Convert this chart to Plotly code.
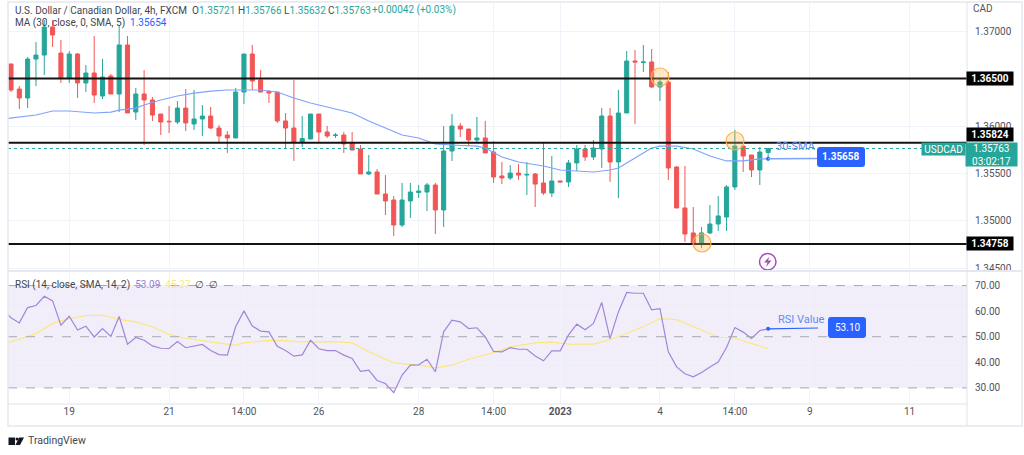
import pandas as pd
import plotly.graph_objects as go
from plotly.subplots import make_subplots

# USDCAD 4h candles: open, high, low, close
candles = [
    (1.36653, 1.36653, 1.36358, 1.36379), (1.36389, 1.36421, 1.36179, 1.36295),
    (1.36295, 1.36726, 1.36189, 1.36705), (1.36705, 1.36884, 1.36421, 1.36747),
    (1.36747, 1.37116, 1.36537, 1.37042), (1.37042, 1.37116, 1.36832, 1.36958),
    (1.36768, 1.36905, 1.36453, 1.36505), (1.36505, 1.36789, 1.36453, 1.36758),
    (1.36758, 1.36768, 1.36295, 1.36453), (1.36453, 1.36642, 1.36358, 1.36558),
    (1.36558, 1.36947, 1.36242, 1.36326), (1.36316, 1.36705, 1.36284, 1.36516),
    (1.36526, 1.36547, 1.36337, 1.36337), (1.36337, 1.37063, 1.36147, 1.36853),
    (1.36853, 1.36947, 1.36137, 1.36137), (1.36147, 1.36400, 1.36063, 1.36337),
    (1.36337, 1.36589, 1.35800, 1.36274), (1.36274, 1.36305, 1.36053, 1.36116),
    (1.36126, 1.36126, 1.35905, 1.36042), (1.36050, 1.36211, 1.35926, 1.36045),
    (1.36042, 1.36263, 1.36021, 1.36189), (1.36189, 1.36389, 1.35947, 1.36032),
    (1.36021, 1.36379, 1.35958, 1.36074), (1.36074, 1.36221, 1.35895, 1.36105),
    (1.36105, 1.36200, 1.35968, 1.35979), (1.35979, 1.36011, 1.35821, 1.35895),
    (1.35905, 1.35947, 1.35716, 1.35874), (1.35874, 1.36400, 1.35874, 1.36358),
    (1.36358, 1.36758, 1.36232, 1.36758), (1.36758, 1.36853, 1.36379, 1.36474),
    (1.36484, 1.36589, 1.36358, 1.36358), (1.36363, 1.36379, 1.36242, 1.36347),
    (1.36358, 1.36358, 1.36032, 1.36053), (1.36053, 1.36137, 1.35758, 1.35979),
    (1.35979, 1.36484, 1.35632, 1.35832), (1.35832, 1.36105, 1.35779, 1.35868),
    (1.35863, 1.36126, 1.35863, 1.36126), (1.36126, 1.36126, 1.35832, 1.35937),
    (1.35937, 1.36000, 1.35874, 1.35895), (1.35900, 1.35926, 1.35874, 1.35905),
    (1.35905, 1.35937, 1.35716, 1.35811), (1.35821, 1.35937, 1.35747, 1.35747),
    (1.35758, 1.35800, 1.35495, 1.35495), (1.35495, 1.35695, 1.35484, 1.35516),
    (1.35516, 1.35547, 1.35284, 1.35284), (1.35284, 1.35484, 1.35063, 1.35211),
    (1.35221, 1.35263, 1.34842, 1.34958), (1.34958, 1.35400, 1.34937, 1.35221),
    (1.35211, 1.35400, 1.35032, 1.35305), (1.35300, 1.35379, 1.35242, 1.35316),
    (1.35305, 1.35400, 1.35105, 1.35379), (1.35379, 1.35400, 1.34863, 1.35116),
    (1.35116, 1.36000, 1.34937, 1.35737), (1.35737, 1.36126, 1.35632, 1.36000),
    (1.36000, 1.36032, 1.35884, 1.35968), (1.35968, 1.35968, 1.35789, 1.35853),
    (1.35853, 1.36095, 1.35821, 1.35874), (1.35874, 1.36053, 1.35716, 1.35716),
    (1.35726, 1.35842, 1.35400, 1.35463), (1.35474, 1.35621, 1.35389, 1.35453),
    (1.35453, 1.35589, 1.35432, 1.35505), (1.35505, 1.35600, 1.35432, 1.35484),
    (1.35484, 1.35621, 1.35274, 1.35490), (1.35495, 1.35505, 1.35147, 1.35389),
    (1.35400, 1.35821, 1.35274, 1.35295), (1.35295, 1.35684, 1.35253, 1.35421),
    (1.35421, 1.35421, 1.35411, 1.35411), (1.35411, 1.35642, 1.35358, 1.35611),
    (1.35611, 1.35800, 1.35526, 1.35758), (1.35758, 1.35800, 1.35632, 1.35674),
    (1.35674, 1.35853, 1.35642, 1.35768), (1.35758, 1.36189, 1.35558, 1.36105),
    (1.36105, 1.36189, 1.35411, 1.35621), (1.35621, 1.36379, 1.35242, 1.36137),
    (1.36137, 1.36789, 1.36137, 1.36684), (1.36684, 1.36800, 1.36021, 1.36674),
    (1.36668, 1.36853, 1.36568, 1.36674), (1.36674, 1.36811, 1.36400, 1.36411),
    (1.36411, 1.36505, 1.36263, 1.36463), (1.36463, 1.36568, 1.35432, 1.35558),
    (1.35568, 1.35579, 1.35137, 1.35137), (1.35137, 1.35579, 1.34779, 1.34863),
    (1.34874, 1.35147, 1.34768, 1.34768), (1.34768, 1.34937, 1.34716, 1.34874),
    (1.34874, 1.35168, 1.34863, 1.34968), (1.34968, 1.35263, 1.34895, 1.35053),
    (1.35042, 1.35379, 1.34895, 1.35358), (1.35358, 1.35958, 1.35326, 1.35789),
    (1.35789, 1.35789, 1.35516, 1.35684), (1.35695, 1.35695, 1.35463, 1.35537),
    (1.35537, 1.35779, 1.35379, 1.35726), (1.35721, 1.35766, 1.35632, 1.35763),
]
df = pd.DataFrame(candles, columns=['open', 'high', 'low', 'close'])

# 30 period SMA, read at the bars where it bends (starts left of the visible range)
sma = [
    (-1, 1.36074), (0, 1.36084), (3, 1.36116), (5, 1.36158), (7, 1.36158), (10, 1.36137), (12, 1.36147),
    (13, 1.36168), (15, 1.36189), (16, 1.36221), (18, 1.36274), (20, 1.36316), (22, 1.36347),
    (24, 1.36368), (26, 1.36379), (28, 1.36379), (30, 1.36379), (32, 1.36358), (34, 1.36295),
    (36, 1.36242), (38, 1.36200), (40, 1.36158), (41, 1.36137), (43, 1.36053), (45, 1.35979),
    (47, 1.35905), (49, 1.35874), (51, 1.35811), (53, 1.35800), (56, 1.35789), (57, 1.35768),
    (59, 1.35674), (61, 1.35621), (64, 1.35579), (66, 1.35537), (68, 1.35526), (70, 1.35516),
    (72, 1.35537), (73, 1.35558), (75, 1.35663), (77, 1.35768), (78, 1.35789), (80, 1.35789),
    (82, 1.35758), (84, 1.35684), (86, 1.35632), (88, 1.35632), (90, 1.35653), (91, 1.35654),
]

# RSI, one value per bar, the first one is the bar left of the visible range
rsi = [
    60.5, 57.4, 55.4, 61.4, 62.2, 65.8, 64.0, 54.5, 58.0, 52.6, 54.1, 49.9, 53.2, 50.1, 57.9, 47.1, 49.7,
    48.6, 46.4, 45.5, 45.4, 48.1, 45.7, 46.3, 47.0, 44.6, 43.0, 42.8, 53.9, 60.1, 54.2, 52.2, 51.9,
    46.3, 44.6, 42.4, 42.9, 48.6, 45.3, 44.6, 44.6, 42.8, 41.5, 36.5, 36.9, 32.9, 31.7, 28.1, 35.0,
    38.9, 39.0, 41.2, 36.3, 51.9, 56.5, 55.8, 53.2, 53.5, 49.9, 44.3, 44.1, 45.7, 45.1, 45.1, 42.5,
    40.6, 44.5, 44.5, 50.6, 54.9, 52.7, 55.2, 63.4, 49.3, 59.7, 67.3, 67.0, 67.0, 60.5, 61.0, 44.1,
    38.2, 35.5, 34.3, 36.0, 38.2, 40.1, 45.8, 53.6, 51.8, 49.3, 52.4, 53.1,
]

# RSI moving average, also read at the bends
rsi_ma = [
    (-1, 47.4), (0, 48.0), (3, 51.2), (5, 55.2), (7, 57.1), (9, 58.3), (11, 58.4), (13, 56.8), (15, 55.8),
    (17, 53.9), (19, 50.9), (21, 49.4), (24, 48.0), (27, 46.6), (28, 47.6), (31, 48.5), (33, 48.5),
    (35, 48.0), (39, 48.1), (41, 47.6), (43, 44.1), (46, 39.8), (48, 39.2), (50, 38.5), (51, 37.8),
    (53, 38.9), (55, 41.2), (58, 43.8), (60, 46.0), (63, 47.6), (65, 47.9), (67, 47.1), (70, 47.1),
    (72, 48.8), (76, 53.9), (78, 57.1), (80, 56.7), (83, 52.6), (85, 49.9), (87, 49.4), (90, 46.3),
    (91, 45.3),
]

# where the date labels sit on the bar axis
date_ticks = [7, 19, 28, 37, 49, 58, 66, 78, 87, 96, 108]
date_text = ['19', '21', '14:00', '26', '28', '14:00', '<b>2023</b>', '4', '14:00', '9', '11']

GREEN = '#26a69a'
RED = '#f25555'
BLUE = '#2962ff'
CALLOUT = '#5c8cf8'
GRID = '#f0f3fa'
TEXT = '#50535e'
FONT = 'Roboto'

# plot area in page pixels, used for the labels that are not tied to data
LEFT, RIGHT, TOP, BOTTOM = 8, 967, 3, 404


def px(x):
    return (x - LEFT) / (RIGHT - LEFT)


def py(y):
    return (BOTTOM - y) / (BOTTOM - TOP)


fig = make_subplots(rows=2, cols=1, shared_xaxes=True)

fig.add_trace(go.Candlestick(
    x=df.index, open=df['open'], high=df['high'], low=df['low'], close=df['close'],
    increasing=dict(line=dict(color=GREEN, width=1), fillcolor=GREEN),
    decreasing=dict(line=dict(color=RED, width=1), fillcolor=RED),
    whiskerwidth=0,
), row=1, col=1)

fig.add_trace(go.Scatter(
    x=[p[0] for p in sma], y=[p[1] for p in sma], mode='lines',
    line=dict(color='#7fa3fb', width=1.2),
), row=1, col=1)

fig.add_trace(go.Scatter(
    x=[p[0] for p in rsi_ma], y=[p[1] for p in rsi_ma], mode='lines',
    line=dict(color='#fbe77e', width=1.2),
), row=2, col=1)

fig.add_trace(go.Scatter(
    x=list(range(-1, len(rsi) - 1)), y=rsi, mode='lines',
    line=dict(color='#a086da', width=1.2),
), row=2, col=1)

# marker dots where the callouts start
fig.add_trace(go.Scatter(x=[91], y=[1.35654], mode='markers', marker=dict(color=BLUE, size=4)), row=1, col=1)
fig.add_trace(go.Scatter(x=[91], y=[53.1], mode='markers', marker=dict(color=BLUE, size=4)), row=2, col=1)

# horizontal levels
for level in [1.365, 1.35824, 1.34758]:
    fig.add_shape(type='line', xref='paper', yref='y', x0=0, x1=1, y0=level, y1=level,
                  line=dict(color='#131313', width=2))
fig.add_shape(type='line', xref='paper', yref='y', x0=0, x1=1, y0=1.35763, y1=1.35763,
              line=dict(color=GREEN, width=1, dash='dot'))

# callout lines
fig.add_shape(type='line', xref='x', yref='y', x0=91, x1=97, y0=1.35654, y1=1.35658,
              line=dict(color='#7fa3fb', width=1.5))
fig.add_shape(type='line', xref='x2', yref='y2', x0=91, x1=97, y0=53.1, y1=53.4,
              line=dict(color=BLUE, width=1.2))

# RSI band
fig.add_shape(type='rect', xref='paper', yref='y2', x0=0, x1=1, y0=30, y1=70,
              fillcolor='rgba(126,87,194,0.1)', line_width=0, layer='below')
for level in [70, 50, 30]:
    fig.add_shape(type='line', xref='paper', yref='y2', x0=0, x1=1, y0=level, y1=level,
                  line=dict(color='#a5a7b0', width=1, dash='dash'))

# orange circles on the touches
for cx, cy in [(660, 77), (735, 141), (702, 243)]:
    fig.add_shape(type='circle', xref='paper', yref='paper',
                  x0=px(cx - 9), x1=px(cx + 9), y0=py(cy + 9), y1=py(cy - 9),
                  fillcolor='rgba(255,183,77,0.3)', line=dict(color='#f9b04a', width=1.2))

# purple lightning badge
fig.add_shape(type='circle', xref='paper', yref='paper',
              x0=px(759.5), x1=px(776), y0=py(270), y1=py(253.5),
              fillcolor='white', line=dict(color='#ab47bc', width=1.5))
fig.add_shape(type='path', xref='paper', yref='paper', fillcolor='#ab47bc', line_width=0,
              path=' '.join([
                  f'M {px(769.5)} {py(256.5)}', f'L {px(764)} {py(262.5)}', f'L {px(767.5)} {py(262.5)}',
                  f'L {px(766)} {py(267)}', f'L {px(771.5)} {py(260.5)}', f'L {px(768)} {py(260.5)}', 'Z',
              ]))

# pane separator and the outer frame
fig.add_shape(type='line', xref='paper', yref='paper', x0=0, x1=px(1022), y0=py(271), y1=py(271),
              line=dict(color='#e6e8ef', width=2))
fig.add_shape(type='rect', xref='paper', yref='paper', x0=px(8), x1=px(1022), y0=py(426), y1=py(2),
              line=dict(color='#e6e8ef', width=1.5))
fig.add_shape(type='line', xref='paper', yref='paper', x0=1, x1=1, y0=py(426), y1=py(2),
              line=dict(color='#e0e3eb', width=1))
fig.add_shape(type='line', xref='paper', yref='paper', x0=0, x1=1, y0=py(404), y1=py(404),
              line=dict(color='#e0e3eb', width=1))

# TradingView logo
fig.add_shape(type='rect', xref='paper', yref='paper', x0=px(8.5), x1=px(15), y0=py(445), y1=py(437.5),
              fillcolor='#131722', line_width=0)
fig.add_shape(type='circle', xref='paper', yref='paper', x0=px(15.5), x1=px(18.5), y0=py(440.5), y1=py(437.5),
              fillcolor='#131722', line_width=0)
fig.add_shape(type='path', xref='paper', yref='paper', fillcolor='#131722', line_width=0,
              path=f'M {px(19)} {py(437.5)} L {px(24)} {py(437.5)} L {px(20)} {py(445)} L {px(15.5)} {py(445)} Z')


def rounded_box(x0, y0, x1, y1, color, r=3):
    # rounded rectangle in page pixels, for the two blue callout boxes
    fig.add_shape(type='path', xref='paper', yref='paper', fillcolor=color, line_width=0, path=' '.join([
        f'M {px(x0 + r)} {py(y0)}', f'L {px(x1 - r)} {py(y0)}', f'Q {px(x1)} {py(y0)} {px(x1)} {py(y0 + r)}',
        f'L {px(x1)} {py(y1 - r)}', f'Q {px(x1)} {py(y1)} {px(x1 - r)} {py(y1)}',
        f'L {px(x0 + r)} {py(y1)}', f'Q {px(x0)} {py(y1)} {px(x0)} {py(y1 - r)}',
        f'L {px(x0)} {py(y0 + r)}', f'Q {px(x0)} {py(y0)} {px(x0 + r)} {py(y0)}', 'Z',
    ]))


rounded_box(817, 147, 865, 167, BLUE)
rounded_box(828, 317, 866, 338, BLUE)


def label(x, y, text, color, size=10, bg=None, w=None, h=None, xanchor='center', fam=FONT):
    fig.add_annotation(xref='paper', yref='paper', x=px(x), y=py(y), text=text, showarrow=False,
                       font=dict(family=fam, size=size, color=color), bgcolor=bg, width=w, height=h,
                       xanchor=xanchor, yanchor='middle', borderpad=0, align='center')


def up(s):
    return f'<span style="color:{GREEN}">{s}</span>'


label(14, 10, 'U.S. Dollar / Canadian Dollar, 4h, FXCM', '#434651', xanchor='left')
label(191, 10, 'O' + up('1.35721'), '#434651', xanchor='left')
label(237, 10, 'H' + up('1.35766'), '#434651', xanchor='left')
label(283, 10, 'L' + up('1.35632'), '#434651', xanchor='left')
label(327, 10, 'C' + up('1.35763'), '#434651', xanchor='left')
label(371, 10, up('+0.00042 (+0.03%)'), '#434651', xanchor='left')
label(14, 23, f'MA (30, close, 0, SMA, 5)  <span style="color:{BLUE}">1.35654</span>', '#434651', xanchor='left')
label(14, 284.5, 'RSI (14, close, SMA, 14, 2)  <span style="color:#9b80d8">53.09</span>  '
      '<span style="color:#fbe77e">45.27</span>  ∅  ∅', '#434651', xanchor='left')
label(983, 8, 'CAD', TEXT, xanchor='center')
label(27, 441, 'TradingView', '#434651', size=10.5, xanchor='left')

label(990, 78.5, '<b>1.36500</b>', 'white', bg='#000000', w=46, h=13)
label(990, 134.5, '<b>1.35824</b>', 'white', bg='#000000', w=46, h=13)
label(990, 243.5, '<b>1.34758</b>', 'white', bg='#000000', w=46, h=13)
label(943.5, 149, 'USDCAD', 'white', bg=GREEN, w=43, h=12)
label(991.5, 154.5, '1.35763<br>03:02:17', 'white', bg=GREEN, w=51, h=23)
label(841, 157, '<b>1.35658</b>', 'white')
label(847, 327.5, '53.10', 'white')
label(795.5, 147, '30-SMA', CALLOUT, size=11)
label(801, 319, 'RSI Value', CALLOUT, size=11)

fig.update_layout(
    width=1024, height=455,
    margin=dict(l=LEFT, r=1024 - RIGHT, t=TOP, b=455 - BOTTOM),
    showlegend=False,
    plot_bgcolor='white', paper_bgcolor='white',
    font=dict(family=FONT, size=10, color=TEXT),
    boxgap=0.3,
    xaxis=dict(rangeslider=dict(visible=False), range=[-0.36, 114.9], tickvals=date_ticks, showticklabels=False,
               gridcolor=GRID, zeroline=False, showline=False, ticks=''),
    xaxis2=dict(range=[-0.36, 114.9], tickvals=date_ticks, ticktext=date_text, gridcolor=GRID,
                zeroline=False, showline=False, ticks='', tickfont=dict(size=10, color=TEXT)),
    # 1.365 gets a grid line but its label is the black box
    yaxis=dict(domain=[py(270), 1], range=[1.34484, 1.37295], side='right',
               tickvals=[1.345, 1.35, 1.355, 1.36, 1.365, 1.37],
               ticktext=['1.34500', '1.35000', '1.35500', '1.36000', '', '1.37000'],
               gridcolor=GRID, zeroline=False, showline=False, ticks='', ticklabelstandoff=7),
    yaxis2=dict(domain=[0, py(272)], range=[23.7, 75.3], side='right',
                tickvals=[30, 40, 50, 60, 70], ticktext=['30.00', '40.00', '50.00', '60.00', '70.00'],
                gridcolor=GRID, zeroline=False, showline=False, ticks='', ticklabelstandoff=7),
)

# the browser adds a default 8px body margin, drop it so the page is exactly the figure
fig.write_html("out.html", post_script="document.body.style.margin='0';",
               config=dict(displayModeBar=False))
